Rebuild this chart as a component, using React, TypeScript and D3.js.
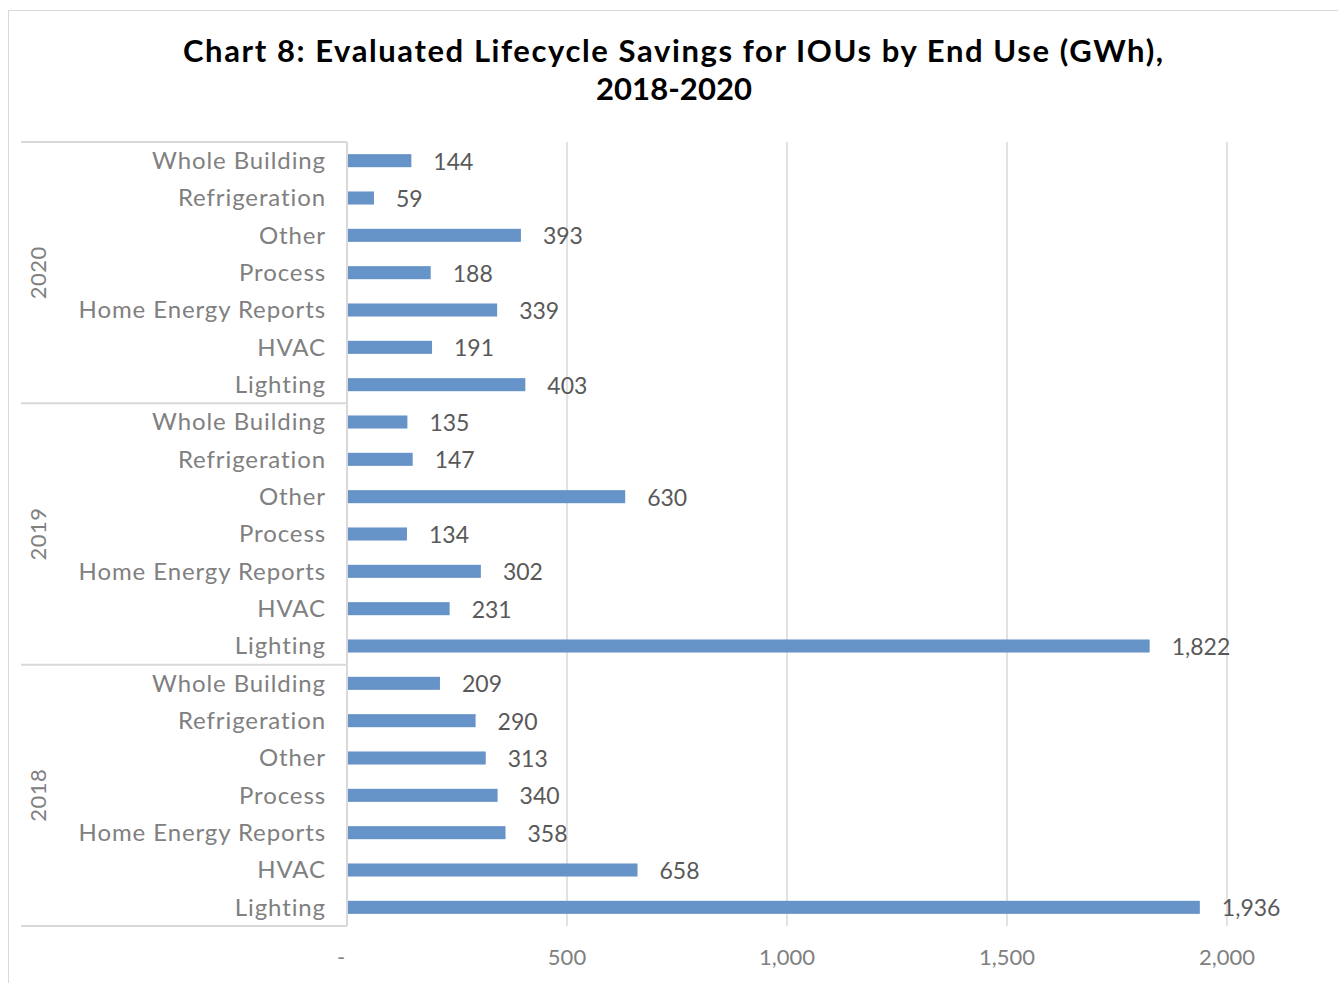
import React from 'react'
import * as d3 from 'd3'

// end uses, listed bottom-up within each year block
const endUses = ['Lighting', 'HVAC', 'Home Energy Reports', 'Process', 'Other', 'Refrigeration', 'Whole Building']
const years = ['2018', '2019', '2020']

const savings2018 = [1936, 658, 358, 340, 313, 290, 209]
const savings2019 = [1822, 231, 302, 134, 630, 147, 135]
const savings2020 = [403, 191, 339, 188, 393, 59, 144]

const xTicks = [0, 500, 1000, 1500, 2000]

const seriesByYear: Record<string, number[]> = {
    '2018': savings2018,
    '2019': savings2019,
    '2020': savings2020,
}

const W = 1338
const H = 983
const FONT = 'Lato, "Open Sans", sans-serif'

export default function App() {
    const plot = { left: 347, right: 1227, top: 142, bottom: 926 }

    // rows go top to bottom: 2020 Whole Building ... 2018 Lighting
    const rows: { key: string, year: string, label: string, value: number }[] = []
    for (const year of [...years].reverse()) {
        const vals = seriesByYear[year]
        for (let i = endUses.length - 1; i >= 0; i--) {
            rows.push({ key: `${year}-${endUses[i]}`, year, label: endUses[i], value: vals[i] })
        }
    }

    const x = d3.scaleLinear().domain([0, 2000]).range([plot.left, plot.right])
    const y = d3.scaleBand()
        .domain(rows.map(r => r.key))
        .range([plot.top, plot.bottom])
        .paddingInner(0.65)
        .paddingOuter(0.325)
    const step = y.step()
    const fmt = d3.format(',')

    const groupTop = (gi: number) => plot.top + gi * endUses.length * step

    return (
        <svg width={W} height={H} style={{ position: 'absolute', left: 0, top: 0, background: '#fff' }}>
            <rect x={8.5} y={10.5} width={W + 10} height={H + 10} fill="#fff" stroke="#d9d9d9" />

            <text x={673} y={62} textAnchor="middle" fontFamily={FONT} fontWeight="bold" fontSize={31} fill="#000"
                textLength={980} lengthAdjust="spacing">
                Chart 8: Evaluated Lifecycle Savings for IOUs by End Use (GWh),
            </text>
            <text x={674} y={100} textAnchor="middle" fontFamily={FONT} fontWeight="bold" fontSize={31} fill="#000"
                textLength={156} lengthAdjust="spacing">
                2018-2020
            </text>

            {/* gridlines */}
            {xTicks.slice(1).map(t => (
                <line key={t} x1={x(t)} x2={x(t)} y1={plot.top} y2={plot.bottom} stroke="#d9d9d9" strokeWidth={1.5} />
            ))}

            {/* category axis: group separators and axis line */}
            {[0, 1, 2, 3].map(gi => (
                <line key={gi} x1={21} x2={plot.left} y1={groupTop(gi)} y2={groupTop(gi)} stroke="#d9d9d9" strokeWidth={2} />
            ))}
            <line x1={plot.left} x2={plot.left} y1={plot.top} y2={plot.bottom} stroke="#d9d9d9" strokeWidth={2} />

            {/* year labels */}
            {[...years].reverse().map((yr, gi) => {
                const cy = groupTop(gi) + endUses.length * step / 2
                return (
                    <text key={yr} transform={`translate(46,${cy}) rotate(-90)`} textAnchor="middle"
                        fontFamily={FONT} fontSize={22} letterSpacing={0.5} fill="#808080">{yr}</text>
                )
            })}

            {/* bars */}
            {rows.map(r => (
                <rect key={r.key} x={x(0) + 1} y={y(r.key)} width={x(r.value) - x(0)} height={y.bandwidth()} fill="#6794c8" />
            ))}

            {/* category labels */}
            {rows.map(r => (
                <text key={r.key} x={326} y={(y(r.key) as number) + y.bandwidth() / 2} dy="0.35em" textAnchor="end"
                    fontFamily={FONT} fontSize={24} letterSpacing={0.9} fill="#808080">{r.label}</text>
            ))}

            {/* value labels */}
            {rows.map(r => (
                <text key={r.key} x={x(r.value) + 23} y={(y(r.key) as number) + y.bandwidth() / 2 + 1} dy="0.35em"
                    fontFamily={FONT} fontSize={23} fill="#595959">{fmt(r.value)}</text>
            ))}

            {/* x axis ticks */}
            {xTicks.map(t => (
                <text key={t} x={x(t) - (t === 0 ? 6 : 0)} y={957} dy="0.35em" textAnchor="middle"
                    fontFamily={FONT} fontSize={22} fill="#808080">{t === 0 ? '-' : fmt(t)}</text>
            ))}
        </svg>
    )
}
